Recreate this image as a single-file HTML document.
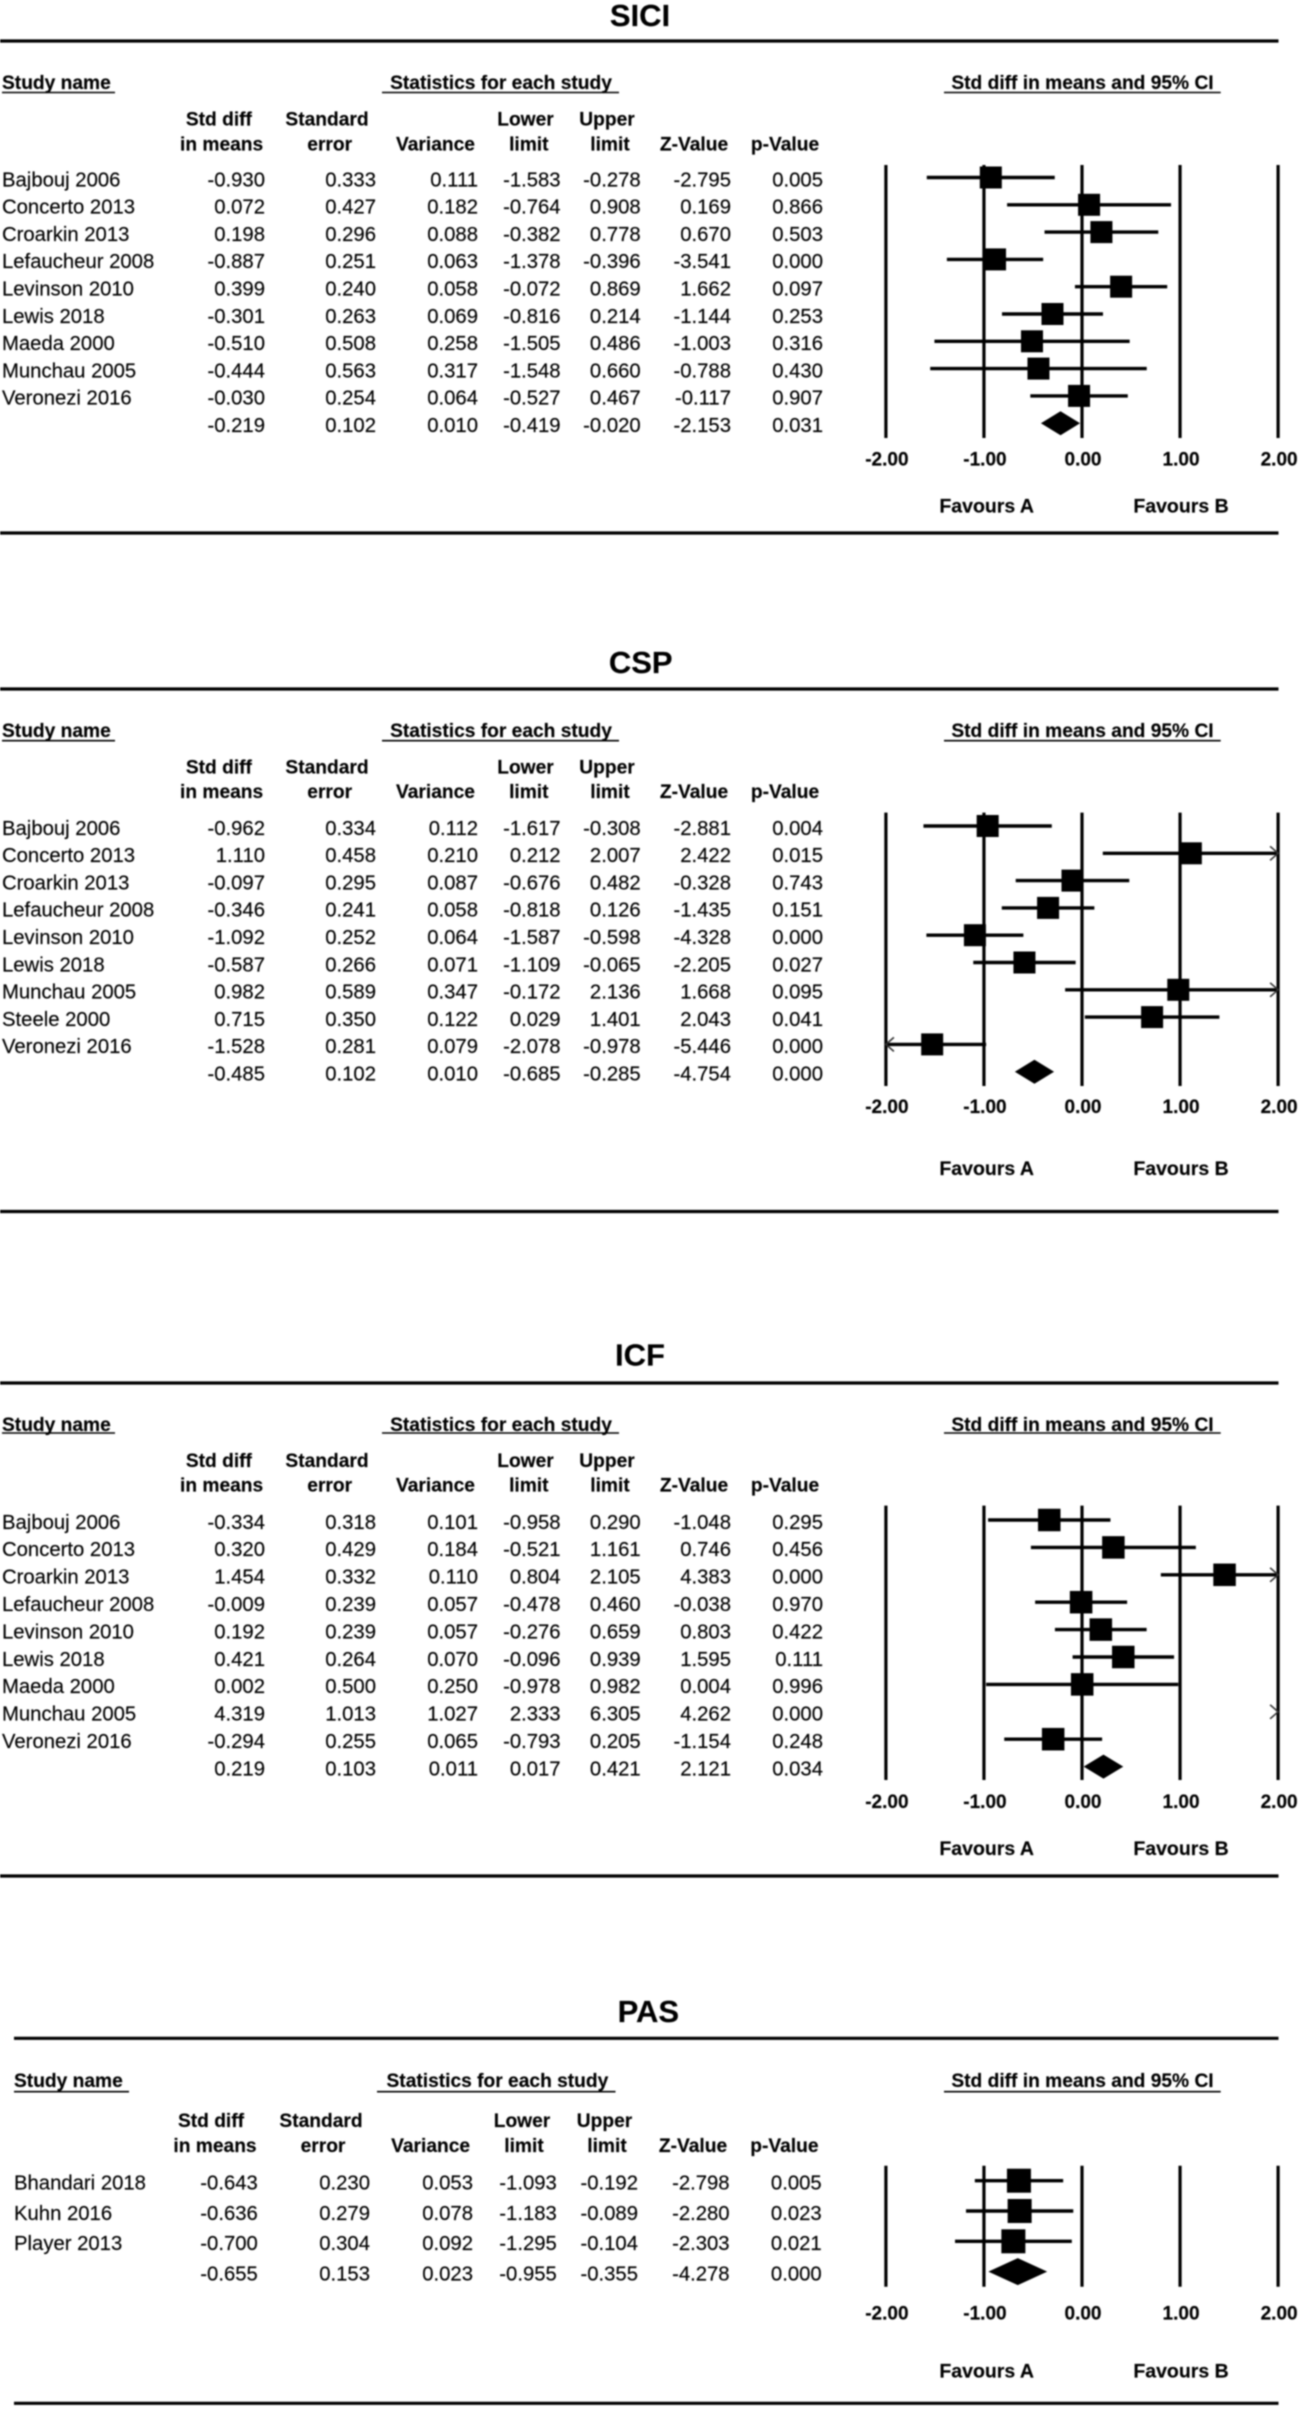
<!DOCTYPE html>
<html lang="en">
<head>
<meta charset="utf-8">
<title>Forest plots: SICI, CSP, ICF, PAS</title>
<style>
  html, body { margin: 0; padding: 0; background: #fff; width: 1299px; height: 2409px; overflow: hidden; }
  svg { display: block; filter: blur(0.8px); font-family: "Liberation Sans", Arial, sans-serif; }
  text { stroke: #000; stroke-width: 0.15px; }
</style>
</head>
<body>
<svg id="figure" xmlns="http://www.w3.org/2000/svg" width="1299" height="2409" viewBox="0 0 1299 2409"></svg>
<script>
// ---------- SICI data ----------
const siciStudies  = ["Bajbouj 2006","Concerto 2013","Croarkin 2013","Lefaucheur 2008","Levinson 2010","Lewis 2018","Maeda 2000","Munchau 2005","Veronezi 2016",""];
const siciEffect   = [-0.930,0.072,0.198,-0.887,0.399,-0.301,-0.510,-0.444,-0.030,-0.219];
const siciStdErr   = [0.333,0.427,0.296,0.251,0.240,0.263,0.508,0.563,0.254,0.102];
const siciVariance = [0.111,0.182,0.088,0.063,0.058,0.069,0.258,0.317,0.064,0.010];
const siciLower    = [-1.583,-0.764,-0.382,-1.378,-0.072,-0.816,-1.505,-1.548,-0.527,-0.419];
const siciUpper    = [-0.278,0.908,0.778,-0.396,0.869,0.214,0.486,0.660,0.467,-0.020];
const siciZ        = [-2.795,0.169,0.670,-3.541,1.662,-1.144,-1.003,-0.788,-0.117,-2.153];
const siciP        = [0.005,0.866,0.503,0.000,0.097,0.253,0.316,0.430,0.907,0.031];

// ---------- CSP data ----------
const cspStudies  = ["Bajbouj 2006","Concerto 2013","Croarkin 2013","Lefaucheur 2008","Levinson 2010","Lewis 2018","Munchau 2005","Steele 2000","Veronezi 2016",""];
const cspEffect   = [-0.962,1.110,-0.097,-0.346,-1.092,-0.587,0.982,0.715,-1.528,-0.485];
const cspStdErr   = [0.334,0.458,0.295,0.241,0.252,0.266,0.589,0.350,0.281,0.102];
const cspVariance = [0.112,0.210,0.087,0.058,0.064,0.071,0.347,0.122,0.079,0.010];
const cspLower    = [-1.617,0.212,-0.676,-0.818,-1.587,-1.109,-0.172,0.029,-2.078,-0.685];
const cspUpper    = [-0.308,2.007,0.482,0.126,-0.598,-0.065,2.136,1.401,-0.978,-0.285];
const cspZ        = [-2.881,2.422,-0.328,-1.435,-4.328,-2.205,1.668,2.043,-5.446,-4.754];
const cspP        = [0.004,0.015,0.743,0.151,0.000,0.027,0.095,0.041,0.000,0.000];

// ---------- ICF data ----------
const icfStudies  = ["Bajbouj 2006","Concerto 2013","Croarkin 2013","Lefaucheur 2008","Levinson 2010","Lewis 2018","Maeda 2000","Munchau 2005","Veronezi 2016",""];
const icfEffect   = [-0.334,0.320,1.454,-0.009,0.192,0.421,0.002,4.319,-0.294,0.219];
const icfStdErr   = [0.318,0.429,0.332,0.239,0.239,0.264,0.500,1.013,0.255,0.103];
const icfVariance = [0.101,0.184,0.110,0.057,0.057,0.070,0.250,1.027,0.065,0.011];
const icfLower    = [-0.958,-0.521,0.804,-0.478,-0.276,-0.096,-0.978,2.333,-0.793,0.017];
const icfUpper    = [0.290,1.161,2.105,0.460,0.659,0.939,0.982,6.305,0.205,0.421];
const icfZ        = [-1.048,0.746,4.383,-0.038,0.803,1.595,0.004,4.262,-1.154,2.121];
const icfP        = [0.295,0.456,0.000,0.970,0.422,0.111,0.996,0.000,0.248,0.034];

// ---------- PAS data ----------
const pasStudies  = ["Bhandari 2018","Kuhn 2016","Player 2013",""];
const pasEffect   = [-0.643,-0.636,-0.700,-0.655];
const pasStdErr   = [0.230,0.279,0.304,0.153];
const pasVariance = [0.053,0.078,0.092,0.023];
const pasLower    = [-1.093,-1.183,-1.295,-0.955];
const pasUpper    = [-0.192,-0.089,-0.104,-0.355];
const pasZ        = [-2.798,-2.280,-2.303,-4.278];
const pasP        = [0.005,0.023,0.021,0.000];

// ---------- shared axis ----------
const axisTicks = [-2, -1, 0, 1, 2];
const axisTickLabels = ["-2.00", "-1.00", "0.00", "1.00", "2.00"];
const AXIS_MIN = -2, AXIS_MAX = 2;
function xScale(v) { return 1082 + 98.05 * v; }

// ---------- panel layouts ----------
const wideColumns = {
  right: [265, 376, 478, 560.6, 640.7, 731, 823],
  head1: [218.9, 327, null, 525.5, 607, null, null],
  head2: [221.6, 329.7, 435.5, 528.8, 610, 694, 785],
  nameX: 2, ruleX: 0, studyRule: [2, 115], statsRule: [382, 619], statsX: 501
};
const pasColumns = {
  right: [257.8, 370, 473, 556.8, 638, 729.6, 821.7],
  head1: [211, 321, null, 522, 604.5, null, null],
  head2: [215, 323, 430.6, 524, 607, 693, 784.4],
  nameX: 14, ruleX: 14, studyRule: [14, 129], statsRule: [377, 615.5], statsX: 497.4
};
const headLine1 = ["Std diff", "Standard", "", "Lower", "Upper", "", ""];
const headLine2 = ["in means", "error", "Variance", "limit", "limit", "Z-Value", "p-Value"];

const panels = [
  { key: "sici", title: "SICI", studies: siciStudies, effect: siciEffect, se: siciStdErr, vari: siciVariance, lower: siciLower, upper: siciUpper, z: siciZ, p: siciP,
    cols: wideColumns, titleX: 640, titleY: 15, top: 41, head: 82, rule: 92.5, h1: 118.6, h2: 143.6, axisTop: 165, axisBottom: 438, row0: 177.5, step: 27.3, tick: 458.6, fav: 505.4, bottom: 533, box: 22, diamond: 12 },
  { key: "csp", title: "CSP", studies: cspStudies, effect: cspEffect, se: cspStdErr, vari: cspVariance, lower: cspLower, upper: cspUpper, z: cspZ, p: cspP,
    cols: wideColumns, titleX: 640.7, titleY: 662, top: 689, head: 730, rule: 740.7, h1: 766.7, h2: 791, axisTop: 812.6, axisBottom: 1086, row0: 826, step: 27.3, tick: 1106, fav: 1168, bottom: 1211.5, box: 22, diamond: 12 },
  { key: "icf", title: "ICF", studies: icfStudies, effect: icfEffect, se: icfStdErr, vari: icfVariance, lower: icfLower, upper: icfUpper, z: icfZ, p: icfP,
    cols: wideColumns, titleX: 640, titleY: 1354.5, top: 1383, head: 1424.2, rule: 1433, h1: 1460, h2: 1484.5, axisTop: 1505.6, axisBottom: 1780, row0: 1520, step: 27.4, tick: 1801, fav: 1848, bottom: 1876, box: 22.5, diamond: 12 },
  { key: "pas", title: "PAS", studies: pasStudies, effect: pasEffect, se: pasStdErr, vari: pasVariance, lower: pasLower, upper: pasUpper, z: pasZ, p: pasP,
    cols: pasColumns, titleX: 648.4, titleY: 2010.7, top: 2038.3, head: 2080, rule: 2091.7, h1: 2120, h2: 2145, axisTop: 2165.7, axisBottom: 2286.7, row0: 2180.7, step: 30.3, tick: 2312.7, fav: 2370.7, bottom: 2403.3, box: 24, diamond: 13.5 }
];

// ---------- drawing ----------
const SVG_NS = "http://www.w3.org/2000/svg";
const figure = document.getElementById("figure");

function shape(parent, tag, props) {
  const n = document.createElementNS(SVG_NS, tag);
  for (const k in props) n.setAttribute(k, props[k]);
  parent.appendChild(n);
  return n;
}
function label(parent, str, x, cy, size, weight, anchor) {
  const n = shape(parent, "text", { x: x, y: cy + size * 0.36, "font-size": size, "font-weight": weight, "text-anchor": anchor, fill: "#000" });
  n.textContent = str;
  return n;
}
function hline(parent, x1, x2, y, w) {
  return shape(parent, "line", { x1: x1, x2: x2, y1: y, y2: y, stroke: "#000", "stroke-width": w });
}

panels.forEach(function (p) {
  const g = shape(figure, "g", {});
  
  
  const c = p.cols;
  const rowY = function (i) { return p.row0 + i * p.step; };

  const title = label(g, p.title, p.titleX, p.titleY, 31, "bold", "middle");
  
  

  const topRule = hline(g, c.ruleX, 1278.5, p.top, 3.2);
  
  

  const bottomRule = hline(g, c.ruleX, 1278.5, p.bottom, 3.2);
  
  

  const studyHead = label(g, "Study name", c.nameX, p.head, 19.2, "bold", "start");
  
  

  const studyRule = hline(g, c.studyRule[0], c.studyRule[1], p.rule, 1.6);
  
  

  const statsHead = label(g, "Statistics for each study", c.statsX, p.head, 19.2, "bold", "middle");
  
  

  const statsRule = hline(g, c.statsRule[0], c.statsRule[1], p.rule, 1.6);
  
  

  const plotHead = label(g, "Std diff in means and 95% CI", 1082.5, p.head, 19.2, "bold", "middle");
  
  

  const plotRule = hline(g, 944, 1220.7, p.rule, 1.6);
  
  

  headLine1.forEach(function (str, i) {
    if (!str) return;
    const t = label(g, str, c.head1[i], p.h1, 19.2, "bold", "middle");
    
    
  });
  headLine2.forEach(function (str, i) {
    const t = label(g, str, c.head2[i], p.h2, 19.2, "bold", "middle");
    
    
  });

  // table rows
  p.studies.forEach(function (name, i) {
    const y = rowY(i) + 1.5;
    if (name) {
      const nt = label(g, name, c.nameX, y, 20.3, "normal", "start");
      
      
    }
    [p.effect, p.se, p.vari, p.lower, p.upper, p.z, p.p].forEach(function (col, j) {
      const cell = label(g, col[i].toFixed(3), c.right[j], y, 20.3, "normal", "end");
      
      
    });
  });

  // axis lines and tick labels
  axisTicks.forEach(function (v, i) {
    const ln = shape(g, "line", { x1: xScale(v), x2: xScale(v), y1: p.axisTop, y2: p.axisBottom, stroke: "#000", "stroke-width": 3.2 });
    
    
    const t = label(g, axisTickLabels[i], xScale(v) + 1, p.tick, 19, "bold", "middle");
    
    
  });

  // favours labels
  const favA = label(g, "Favours A", 986.7, p.fav, 19.5, "bold", "middle");
  
  
  const favB = label(g, "Favours B", 1181, p.fav, 19.5, "bold", "middle");
  
  

  // marks
  const last = p.effect.length - 1;
  p.effect.forEach(function (eff, i) {
    const y = rowY(i);
    const lo = p.lower[i], up = p.upper[i];
    if (i === last) {
      const d = shape(g, "polygon", {
        points: [xScale(lo) + "," + y, xScale(eff) + "," + (y - p.diamond), xScale(up) + "," + y, xScale(eff) + "," + (y + p.diamond)].join(" "),
        fill: "#000"
      });
      
      
      return;
    }
    if (lo <= AXIS_MAX && up >= AXIS_MIN) {
      const ci = hline(g, xScale(Math.max(lo, AXIS_MIN)), xScale(Math.min(up, AXIS_MAX)), y, 3.4);
      
      
    }
    if (up > AXIS_MAX) {
      const xe = xScale(AXIS_MAX);
      const ar = shape(g, "polyline", { points: (xe - 8) + "," + (y - 7) + " " + xe + "," + y + " " + (xe - 8) + "," + (y + 7), fill: "none", stroke: "#333", "stroke-width": 1.6 });
      
      
    }
    if (lo < AXIS_MIN) {
      const xs = xScale(AXIS_MIN);
      const al = shape(g, "polyline", { points: (xs + 8) + "," + (y - 7) + " " + xs + "," + y + " " + (xs + 8) + "," + (y + 7), fill: "none", stroke: "#333", "stroke-width": 1.6 });
      
      
    }
    if (eff >= AXIS_MIN && eff <= AXIS_MAX) {
      const b = shape(g, "rect", { x: xScale(eff) - p.box / 2, y: y - p.box / 2, width: p.box, height: p.box, fill: "#000" });
      
      
    }
  });
});
</script>
</body>
</html>
